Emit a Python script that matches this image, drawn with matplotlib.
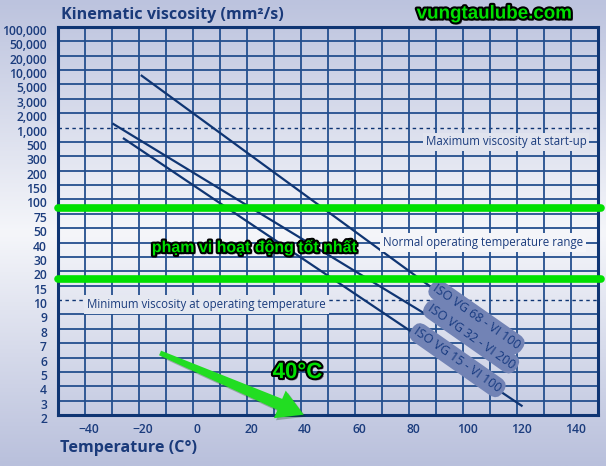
import numpy as np
import matplotlib
matplotlib.use("Agg")
import matplotlib.pyplot as plt
import matplotlib.patheffects as pe
from matplotlib.colors import LinearSegmentedColormap
from matplotlib.patches import Polygon
from matplotlib.ticker import FixedLocator, FixedFormatter
from matplotlib.transforms import ScaledTranslation, IdentityTransform

plt.rcParams['font.family'] = ['Open Sans', 'DejaVu Sans']

# y axis: equally spaced viscosity grades (mm2/s)
y_ticks = [2, 3, 4, 5, 6, 7, 8, 9, 10, 15, 20, 30, 40, 50, 75, 100, 150, 200,
           300, 500, 1000, 2000, 3000, 5000, 10000, 20000, 50000, 100000]
y_labels = ['2', '3', '4', '5', '6', '7', '8', '9', '10', '15', '20', '30', '40',
            '50', '75', '100', '150', '200', '300', '500', '1,000', '2,000',
            '3,000', '5,000', '10,000', '20,000', '50,000', '100,000']
x_ticks = [-40, -20, 0, 20, 40, 60, 80, 100, 120, 140]

# oil lines: (temperature start, end), (viscosity start, end)
oil_names = ['ISO VG 68 - VI 100', 'ISO VG 32 - VI 200', 'ISO VG 15 - VI 100']
oil_temp = [(-19, 110), (-29.5, 108), (-25.6, 121.7)]
oil_visc = [(7630, 7.9), (1190, 6.5), (587, 2.6)]
label_temp = [105, 103, 98]
label_visc = [8.8, 7.45, 5.8]

max_startup = 1000
min_operating = 10
best_range = [85, 17.3]

# arrow pointing at 40 C: tail (temp, visc) -> tip (temp, visc)
arrow_tail = (-12.2, 6.3)
arrow_tip = (41.0, 2.02)

navy = '#0f3573'
text_col = '#1b3c7d'

log_t = np.log10(y_ticks)
idx = np.arange(len(y_ticks))


def fwd(v):
    v = np.clip(np.asarray(v, dtype=float), 1e-9, None)
    return np.interp(np.log10(v), log_t, idx)


def inv(i):
    return 10 ** np.interp(np.asarray(i, dtype=float), idx, log_t)


fig = plt.figure(figsize=(6.06, 4.66), dpi=100)

# background gradient
bg = fig.add_axes([0, 0, 1, 1], zorder=-1)
cmap = LinearSegmentedColormap.from_list('bg', [(0, '#bcc3de'), (0.5, '#f5f6fa'), (1, '#b9c0dc')])
bg.imshow(np.linspace(0, 1, 256).reshape(-1, 1), aspect='auto', cmap=cmap,
          extent=[0, 1, 0, 1])
bg.axis('off')

ax = fig.add_axes([58 / 606, 51 / 466, 540 / 606, 388 / 466])
ax.set_facecolor('none')
ax.set_yscale('function', functions=(fwd, inv))
ax.set_xlim(-50, 150)
ax.set_ylim(2, 100000)

# grid
for v in y_ticks[1:-1]:
    if v in (max_startup, min_operating):
        ax.axhline(v, color=navy, lw=1.0, ls=(0, (2.5, 2.5)), zorder=1)
    else:
        ax.axhline(v, color='#244f8e', lw=1.3, zorder=1)
for t in range(-40, 150, 10):
    ax.axvline(t, color='#244f8e', lw=1.3, zorder=1)

for s in ax.spines.values():
    s.set_color(navy)
    s.set_linewidth(2.2)

ax.yaxis.set_major_locator(FixedLocator(y_ticks))
ax.yaxis.set_major_formatter(FixedFormatter(y_labels))
ax.yaxis.set_minor_locator(FixedLocator([]))
ax.set_xticks(x_ticks)
ax.tick_params(length=0, labelsize=8.7, labelcolor=text_col)
ax.tick_params(axis='y', pad=8)
ax.tick_params(axis='x', pad=6)
for lab in ax.get_yticklabels() + ax.get_xticklabels():
    lab.set_fontweight('semibold')
for lab in ax.get_yticklabels():
    lab.set_transform(lab.get_transform() + ScaledTranslation(0, -0.03, fig.dpi_scale_trans))
for lab in ax.get_xticklabels():
    lab.set_transform(lab.get_transform() + ScaledTranslation(0.04, 0, fig.dpi_scale_trans))

# oil lines
for tt, vv in zip(oil_temp, oil_visc):
    ax.plot(tt, vv, color=navy, lw=1.6, zorder=3)

for name, tt, vv in zip(oil_names, label_temp, label_visc):
    ax.text(tt, vv, name, rotation=-35, rotation_mode='anchor', ha='center', va='center',
            fontsize=9, color='#173a80', zorder=5,
            bbox=dict(boxstyle='round,pad=0.3,rounding_size=0.75', facecolor='#7283b5',
                      edgecolor='none'))

# annotation boxes
box = dict(boxstyle='square,pad=0.25', edgecolor='none')
ax.text(86.2, 500, 'Maximum viscosity at start-up', fontsize=8.3, color=text_col,
        ha='left', va='center', zorder=4, bbox=dict(box, facecolor='#e1e4ef'))
ax.text(70.5, 40, 'Normal operating temperature range', fontsize=8.3, color=text_col,
        ha='left', va='center', zorder=4, bbox=dict(box, facecolor='#f4f5f9'))
ax.text(-39.3, 9.7, 'Minimum viscosity at operating temperature', fontsize=8.3,
        color=text_col, ha='left', va='center', zorder=4, bbox=dict(box, facecolor='#e5e8f1'))

# green overlays
for v in best_range:
    ax.plot([-50, 151], [v, v], color='#00e000', lw=5.5, solid_capstyle='round',
            clip_on=False, zorder=6)

outline = [pe.withSimplePatchShadow(offset=(1.5, -1.5), shadow_rgbFace='black', alpha=0.5),
           pe.withStroke(linewidth=3, foreground='black')]
ax.text(23, 36.5, 'phạm vi hoạt động tốt nhất', fontsize=11.5, fontweight='bold',
        family=['Liberation Sans', 'DejaVu Sans'], color='#00e000', ha='center',
        va='center', zorder=7, path_effects=outline)
ax.text(29.5, 4.95, '40°C', fontsize=16, fontweight='bold',
        family=['Liberation Sans', 'DejaVu Sans'], color='#00e000', ha='left',
        va='center', zorder=7, path_effects=outline)

# tapered green arrow, built in display space from the data end points
p0 = ax.transData.transform(arrow_tail)
p1 = ax.transData.transform(arrow_tip)
d = (p1 - p0) / np.hypot(*(p1 - p0))
n = np.array([-d[1], d[0]])
base = p1 - 26 * d
verts = [p0 + 2.5 * n, base + 6 * n, base + 15 * n, p1,
         base - 15 * n, base - 6 * n, p0 - 2.5 * n]
ax.add_patch(Polygon(verts, closed=True, transform=IdentityTransform(),
                     facecolor='#22dd22', edgecolor='none', clip_on=False, zorder=7,
                     path_effects=[pe.withSimplePatchShadow(offset=(1.5, -1.5), alpha=0.3)]))

fig.text(494 / 606, 1 - 14 / 466, 'vungtaulube.com', fontsize=13.5, fontweight='bold',
         family=['Liberation Sans', 'DejaVu Sans'], color='#00e000', ha='center',
         va='center', path_effects=outline)

fig.text(61 / 606, 1 - 15 / 466, 'Kinematic viscosity (mm²/s)', fontsize=11.6,
         fontweight='bold', color='#1a3a7a', ha='left', va='center')
fig.text(60 / 606, 1 - 448 / 466, 'Temperature (C°)', fontsize=11.6,
         fontweight='bold', color='#1a3a7a', ha='left', va='center')

fig.savefig('out.png', dpi=100)
